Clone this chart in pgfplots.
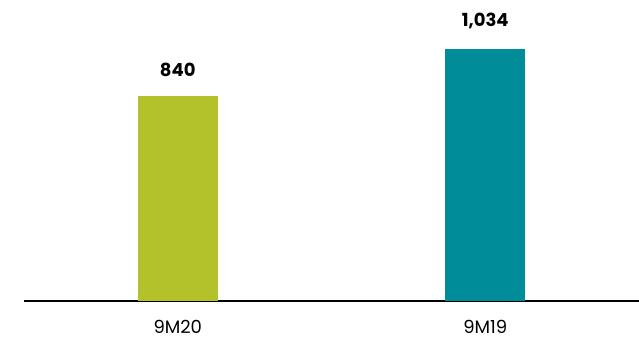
\documentclass[border=0pt]{standalone}
\usepackage{pgfplots}
\pgfplotsset{compat=1.18}
\usepackage{fontspec}
\setmainfont{Poppins}
\definecolor{olive}{HTML}{B3C22A}
\definecolor{teal}{HTML}{008C99}
\begin{document}
\begin{tikzpicture}
\path[use as bounding box] (0,-28.5pt) rectangle (479.25pt,225.75pt);
\begin{axis}[
  at={(18pt,0)}, anchor=south west,
  scale only axis, width=461.25pt, height=225.75pt,
  xmin=-0.5, xmax=1.5, ymin=0, ymax=1233,
  axis y line=none, axis x line*=bottom,
  x axis line style={-, line width=1pt, black},
  xtick={0,1}, xticklabels={9M20,9M19},
  major tick length=0pt,
  xticklabel style={font=\fontsize{13.5}{15}\selectfont, yshift=-11pt},
  ybar, bar width=60pt,
  nodes near coords,
  point meta=explicit symbolic,
  every node near coord/.append style={font=\fontsize{13.5}{16}\selectfont\bfseries, yshift=11pt, black},
  clip=false,
]
\addplot[fill=olive, draw=none, bar shift=0pt] coordinates {(0,840) [840]};
\addplot[fill=teal, draw=none, bar shift=0pt] coordinates {(1,1034) [1,034]};
\end{axis}
\end{tikzpicture}
\end{document}
